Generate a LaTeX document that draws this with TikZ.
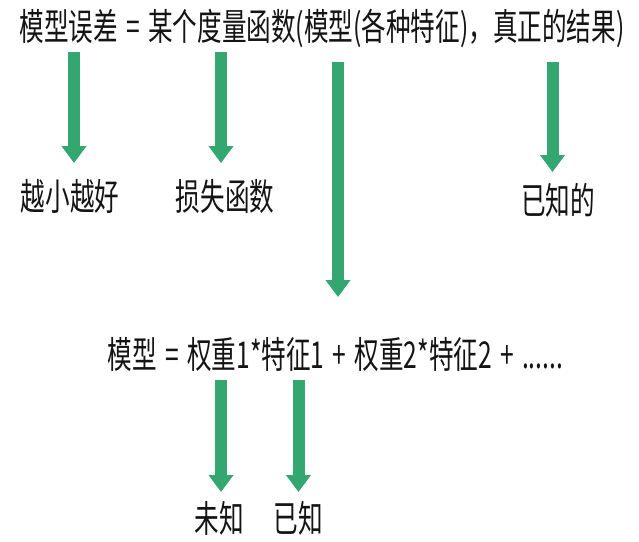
\documentclass[tikz,border=0pt]{standalone}
\usepackage{fontspec}
\setmainfont{Noto Sans CJK SC}[FakeStretch=0.665,WordSpace=1.5]
\usetikzlibrary{arrows.meta}
\definecolor{arrowgreen}{RGB}{52,166,112}
\definecolor{txtcol}{RGB}{20,20,20}
\begin{document}
\begin{tikzpicture}[x=1pt,y=-1pt,
  txt/.style={inner sep=0pt, text=txtcol, font=\fontsize{37}{40}\selectfont},
  blockarrow/.style={draw=arrowgreen, line width=12pt, -{Triangle[width=24pt,length=17pt]}}]
\useasboundingbox (0,0) rectangle (639,541);
% texts
\node[txt] (top) at (322,28.5) {模型误差 = 某个度量函数(模型(各种特征)，真正的结果)};
\node[txt] (small) at (70,196) {越小越好};
\node[txt] (loss) at (225,196) {损失函数};
\node[txt] (known1) at (558,200) {已知的};
\node[txt] (model) at (335.5,354.5) {模型 = 权重1*特征1 + 权重2*特征2 + ......};
\node[txt] (unknown) at (219,518) {未知};
\node[txt] (known2) at (298.5,518) {已知};
% arrow end points
\coordinate (a1s) at (74,52);
\coordinate (a1e) at (74,163);
\coordinate (a2s) at (221,52);
\coordinate (a2e) at (221,163);
\coordinate (a3s) at (338,62);
\coordinate (a3e) at (338,297);
\coordinate (a4s) at (552.5,62);
\coordinate (a4e) at (552.5,172);
\coordinate (a5s) at (221,380);
\coordinate (a5e) at (221,492);
\coordinate (a6s) at (298.5,380);
\coordinate (a6e) at (298.5,492);
% arrows
\draw[blockarrow] (a1s) -- (a1e);
\draw[blockarrow] (a2s) -- (a2e);
\draw[blockarrow] (a3s) -- (a3e);
\draw[blockarrow] (a4s) -- (a4e);
\draw[blockarrow] (a5s) -- (a5e);
\draw[blockarrow] (a6s) -- (a6e);
\end{tikzpicture}
\end{document}
